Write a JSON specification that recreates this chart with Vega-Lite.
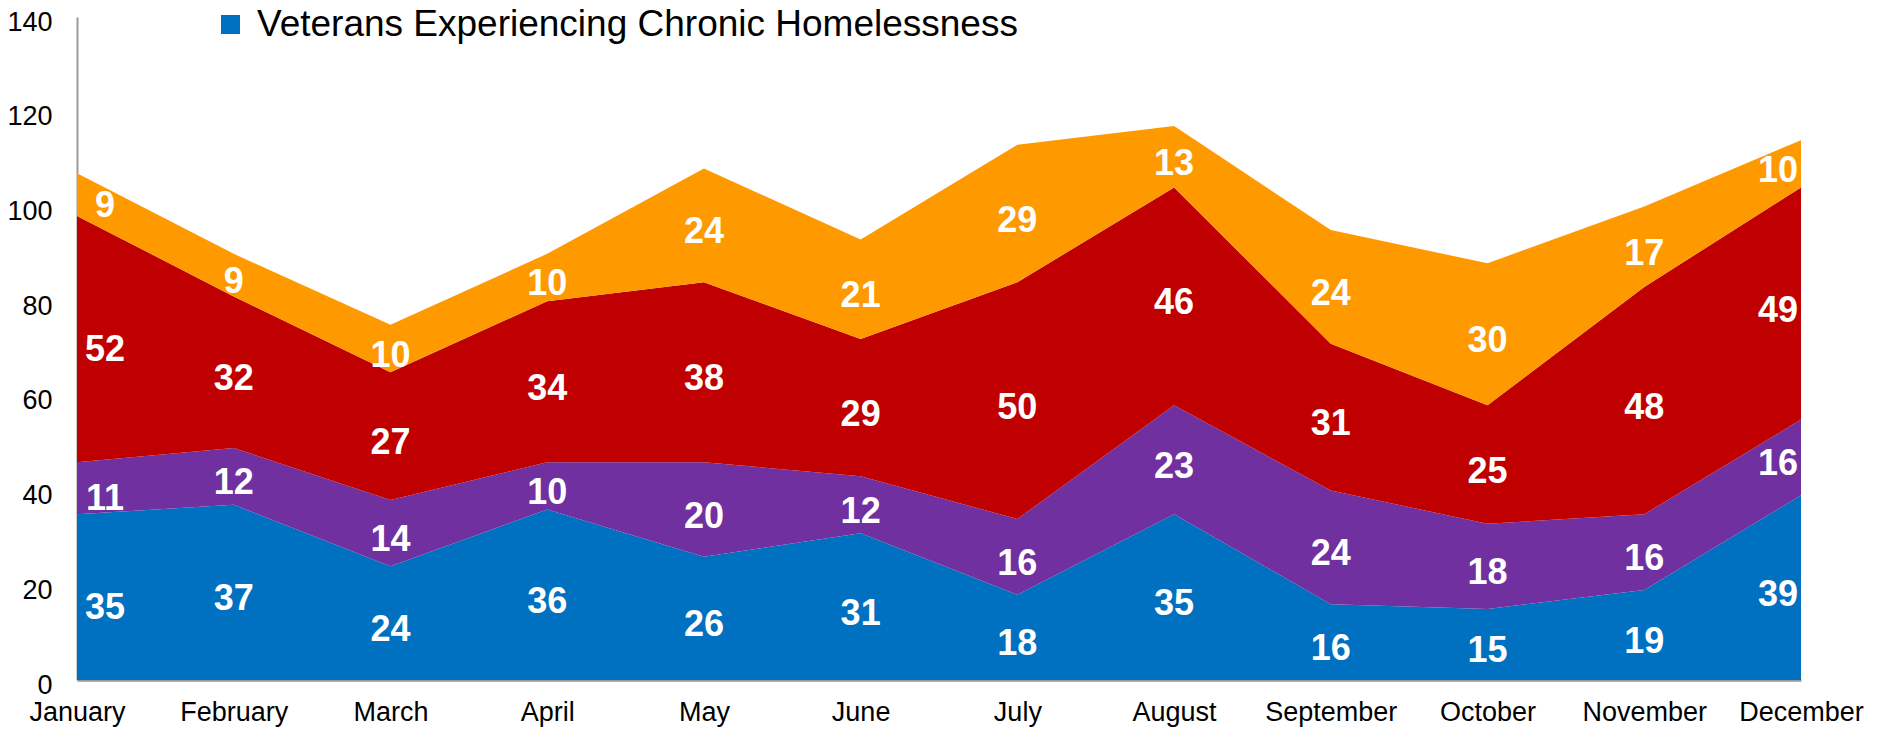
{
  "$schema": "https://vega.github.io/schema/vega-lite/v6.json",
  "width": 1724,
  "height": 663,
  "autosize": {"type": "none"},
  "padding": {"left": 77, "top": 17, "right": 78, "bottom": 49},
  "background": "white",
  "config": {"view": {"stroke": null}, "font": "Liberation Sans"},
  "data": {"values": [
    {"month": "January", "series": "Veterans Experiencing Chronic Homelessness", "rank": 1, "veterans": 35},
    {"month": "February", "series": "Veterans Experiencing Chronic Homelessness", "rank": 1, "veterans": 37},
    {"month": "March", "series": "Veterans Experiencing Chronic Homelessness", "rank": 1, "veterans": 24},
    {"month": "April", "series": "Veterans Experiencing Chronic Homelessness", "rank": 1, "veterans": 36},
    {"month": "May", "series": "Veterans Experiencing Chronic Homelessness", "rank": 1, "veterans": 26},
    {"month": "June", "series": "Veterans Experiencing Chronic Homelessness", "rank": 1, "veterans": 31},
    {"month": "July", "series": "Veterans Experiencing Chronic Homelessness", "rank": 1, "veterans": 18},
    {"month": "August", "series": "Veterans Experiencing Chronic Homelessness", "rank": 1, "veterans": 35},
    {"month": "September", "series": "Veterans Experiencing Chronic Homelessness", "rank": 1, "veterans": 16},
    {"month": "October", "series": "Veterans Experiencing Chronic Homelessness", "rank": 1, "veterans": 15},
    {"month": "November", "series": "Veterans Experiencing Chronic Homelessness", "rank": 1, "veterans": 19},
    {"month": "December", "series": "Veterans Experiencing Chronic Homelessness", "rank": 1, "veterans": 39},
    {"month": "January", "series": "Veterans Experiencing Homelessness (Unsheltered)", "rank": 2, "veterans": 11},
    {"month": "February", "series": "Veterans Experiencing Homelessness (Unsheltered)", "rank": 2, "veterans": 12},
    {"month": "March", "series": "Veterans Experiencing Homelessness (Unsheltered)", "rank": 2, "veterans": 14},
    {"month": "April", "series": "Veterans Experiencing Homelessness (Unsheltered)", "rank": 2, "veterans": 10},
    {"month": "May", "series": "Veterans Experiencing Homelessness (Unsheltered)", "rank": 2, "veterans": 20},
    {"month": "June", "series": "Veterans Experiencing Homelessness (Unsheltered)", "rank": 2, "veterans": 12},
    {"month": "July", "series": "Veterans Experiencing Homelessness (Unsheltered)", "rank": 2, "veterans": 16},
    {"month": "August", "series": "Veterans Experiencing Homelessness (Unsheltered)", "rank": 2, "veterans": 23},
    {"month": "September", "series": "Veterans Experiencing Homelessness (Unsheltered)", "rank": 2, "veterans": 24},
    {"month": "October", "series": "Veterans Experiencing Homelessness (Unsheltered)", "rank": 2, "veterans": 18},
    {"month": "November", "series": "Veterans Experiencing Homelessness (Unsheltered)", "rank": 2, "veterans": 16},
    {"month": "December", "series": "Veterans Experiencing Homelessness (Unsheltered)", "rank": 2, "veterans": 16},
    {"month": "January", "series": "Veterans Experiencing Homelessness (Sheltered)", "rank": 3, "veterans": 52},
    {"month": "February", "series": "Veterans Experiencing Homelessness (Sheltered)", "rank": 3, "veterans": 32},
    {"month": "March", "series": "Veterans Experiencing Homelessness (Sheltered)", "rank": 3, "veterans": 27},
    {"month": "April", "series": "Veterans Experiencing Homelessness (Sheltered)", "rank": 3, "veterans": 34},
    {"month": "May", "series": "Veterans Experiencing Homelessness (Sheltered)", "rank": 3, "veterans": 38},
    {"month": "June", "series": "Veterans Experiencing Homelessness (Sheltered)", "rank": 3, "veterans": 29},
    {"month": "July", "series": "Veterans Experiencing Homelessness (Sheltered)", "rank": 3, "veterans": 50},
    {"month": "August", "series": "Veterans Experiencing Homelessness (Sheltered)", "rank": 3, "veterans": 46},
    {"month": "September", "series": "Veterans Experiencing Homelessness (Sheltered)", "rank": 3, "veterans": 31},
    {"month": "October", "series": "Veterans Experiencing Homelessness (Sheltered)", "rank": 3, "veterans": 25},
    {"month": "November", "series": "Veterans Experiencing Homelessness (Sheltered)", "rank": 3, "veterans": 48},
    {"month": "December", "series": "Veterans Experiencing Homelessness (Sheltered)", "rank": 3, "veterans": 49},
    {"month": "January", "series": "Veterans Experiencing Homelessness (Other)", "rank": 4, "veterans": 9},
    {"month": "February", "series": "Veterans Experiencing Homelessness (Other)", "rank": 4, "veterans": 9},
    {"month": "March", "series": "Veterans Experiencing Homelessness (Other)", "rank": 4, "veterans": 10},
    {"month": "April", "series": "Veterans Experiencing Homelessness (Other)", "rank": 4, "veterans": 10},
    {"month": "May", "series": "Veterans Experiencing Homelessness (Other)", "rank": 4, "veterans": 24},
    {"month": "June", "series": "Veterans Experiencing Homelessness (Other)", "rank": 4, "veterans": 21},
    {"month": "July", "series": "Veterans Experiencing Homelessness (Other)", "rank": 4, "veterans": 29},
    {"month": "August", "series": "Veterans Experiencing Homelessness (Other)", "rank": 4, "veterans": 13},
    {"month": "September", "series": "Veterans Experiencing Homelessness (Other)", "rank": 4, "veterans": 24},
    {"month": "October", "series": "Veterans Experiencing Homelessness (Other)", "rank": 4, "veterans": 30},
    {"month": "November", "series": "Veterans Experiencing Homelessness (Other)", "rank": 4, "veterans": 17},
    {"month": "December", "series": "Veterans Experiencing Homelessness (Other)", "rank": 4, "veterans": 10}
  ]},
  "encoding": {
    "x": {
      "field": "month",
      "type": "ordinal",
      "sort": ["January", "February", "March", "April", "May", "June", "July", "August", "September", "October", "November", "December"],
      "scale": {"type": "point", "padding": 0},
      "axis": {
        "title": null,
        "labelAngle": 0,
        "labelFont": "Liberation Sans",
        "labelFontSize": 27,
        "labelColor": "black",
        "labelPadding": 19,
        "labelOverlap": false,
        "labelFlush": false,
        "labelBound": false,
        "ticks": false,
        "grid": false,
        "domainColor": "#999999",
        "domainWidth": 2.5
      }
    }
  },
  "layer": [
    {
      "mark": {"type": "area", "interpolate": "linear", "opacity": 1},
      "encoding": {
        "y": {
          "field": "veterans",
          "type": "quantitative",
          "stack": "zero",
          "title": null,
          "scale": {"domain": [0, 140], "nice": false},
          "axis": {
            "title": null,
            "values": [0, 20, 40, 60, 80, 100, 120, 140],
            "labelFont": "Liberation Sans",
            "labelFontSize": 27,
            "labelColor": "black",
            "labelPadding": 25,
            "labelOffset": 5,
            "labelBound": false,
            "labelFlush": false,
            "ticks": false,
            "grid": false,
            "domainColor": "#999999",
            "domainWidth": 2
          }
        },
        "color": {
          "field": "series",
          "type": "nominal",
          "scale": {
            "domain": ["Veterans Experiencing Chronic Homelessness", "Veterans Experiencing Homelessness (Unsheltered)", "Veterans Experiencing Homelessness (Sheltered)", "Veterans Experiencing Homelessness (Other)"],
            "range": ["#0070C0", "#7030A0", "#C00000", "#FF9900"]
          },
          "legend": {
            "title": null,
            "orient": "none",
            "legendX": 135,
            "legendY": -11,
            "values": ["Veterans Experiencing Chronic Homelessness"],
            "symbolType": "square",
            "symbolSize": 361,
            "symbolStrokeWidth": 0,
            "labelFont": "Liberation Sans",
            "labelFontSize": 37,
            "labelColor": "black",
            "labelOffset": 8,
            "labelLimit": 0,
            "padding": 0
          }
        },
        "order": {"field": "rank", "type": "quantitative"}
      }
    },
    {
      "transform": [
        {"stack": "veterans", "groupby": ["month"], "sort": [{"field": "rank", "order": "ascending"}], "as": ["lo", "hi"]},
        {"fold": ["lo", "hi"], "as": ["edge", "pos"]},
        {"aggregate": [{"op": "mean", "field": "pos", "as": "mid"}], "groupby": ["month", "series", "rank", "veterans"]}
      ],
      "encoding": {
        "y": {"field": "mid", "type": "quantitative", "title": null},
        "text": {"field": "veterans", "type": "quantitative"}
      },
      "layer": [
        {
          "transform": [{"filter": {"field": "month", "equal": "January"}}],
          "mark": {"type": "text", "color": "white", "font": "Liberation Sans", "fontWeight": "bold", "fontSize": 36, "baseline": "middle", "align": "center", "dx": 28, "dy": 11}
        },
        {
          "transform": [{"filter": {"field": "month", "equal": "December"}}],
          "mark": {"type": "text", "color": "white", "font": "Liberation Sans", "fontWeight": "bold", "fontSize": 36, "baseline": "middle", "align": "center", "dx": -23, "dy": 7}
        },
        {
          "transform": [{"filter": {"not": {"field": "month", "oneOf": ["January", "December"]}}}],
          "mark": {"type": "text", "color": "white", "font": "Liberation Sans", "fontWeight": "bold", "fontSize": 36, "baseline": "middle", "align": "center", "dy": 7}
        }
      ]
    }
  ]
}
